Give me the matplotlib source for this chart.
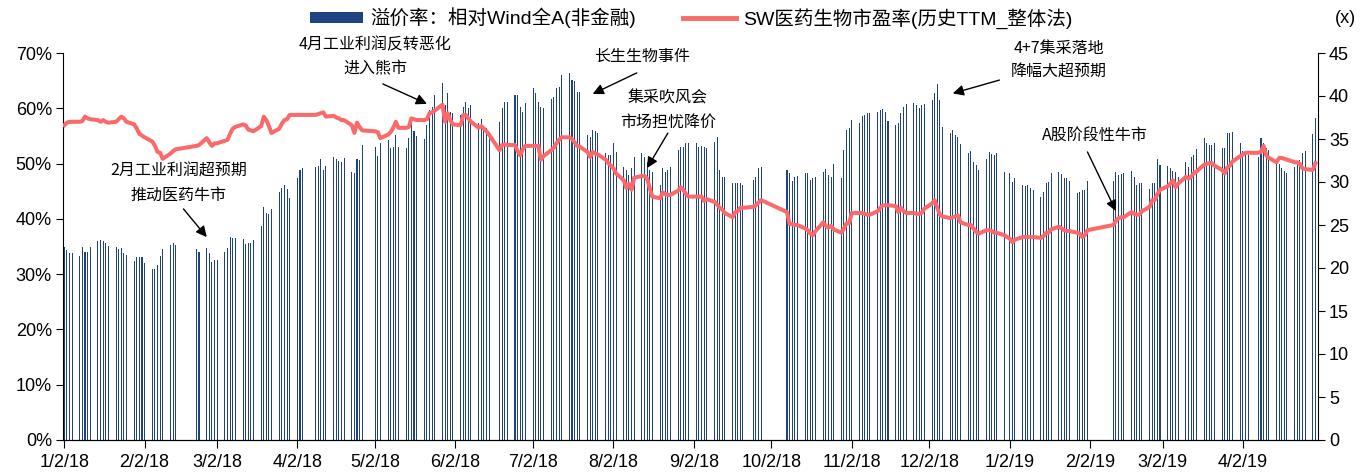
import matplotlib
matplotlib.use("Agg")
import matplotlib.pyplot as plt
import numpy as np
import pandas as pd
from matplotlib.patches import Patch
from matplotlib.lines import Line2D
from matplotlib.ticker import FuncFormatter

# 字体: 西文用 Liberation Sans, 中文回退到 Noto Sans CJK
plt.rcParams["font.family"] = ["Liberation Sans", "Noto Sans CJK SC"]
plt.rcParams["axes.unicode_minus"] = False

# A股休市日
holidays = [
    "2018-01-01", "2018-02-15", "2018-02-16", "2018-02-19", "2018-02-20",
    "2018-02-21", "2018-04-05", "2018-04-06", "2018-04-30", "2018-05-01",
    "2018-06-18", "2018-09-24", "2018-10-01", "2018-10-02", "2018-10-03",
    "2018-10-04", "2018-10-05", "2019-01-01", "2019-02-04", "2019-02-05",
    "2019-02-06", "2019-02-07", "2019-02-08", "2019-04-05",
]

# 溢价率(%) 逐交易日, 每行一周
premium_2018 = [
    34.9, 34.4, 33.8, 33.8,
    33.3, 34.9, 34.0, 34.0, 34.9,
    36.0, 36.2, 36.0, 35.6, 35.1,
    34.9, 34.5, 34.7, 33.8, 33.5,
    32.4, 33.1, 33.1, 33.1, 32.0,
    30.9, 30.9, 31.6, 33.3, 34.5,
    35.3, 35.6, 35.3,
    34.5, 34.0,
    34.7, 33.8, 32.2, 32.5, 32.5,
    34.0, 34.7, 36.7, 36.5, 36.5,
    36.3, 35.4, 35.6, 35.6, 36.2,
    38.7, 42.1, 41.0, 40.9, 41.8,
    44.8, 45.6, 46.1, 45.4, 43.8,
    47.4, 48.8, 49.2,
    49.4, 49.5, 50.8, 48.8, 49.6,
    51.2, 50.8, 50.5, 50.3, 51.0,
    48.5, 48.3, 50.8, 50.6, 53.3,
    53.0, 51.4, 53.7,
    54.2, 52.8, 53.0, 55.2, 53.0,
    52.8, 54.6, 57.3, 55.9, 55.0,
    54.4, 57.0, 59.7, 60.2, 62.4,
    64.6, 60.6, 62.7, 59.3, 59.1,
    58.8, 60.2, 61.1, 60.0, 60.6,
    57.3, 58.0, 56.6, 56.4, 55.7,
    57.5, 60.0, 61.1, 61.1,
    62.4, 62.4, 60.2, 59.3, 60.9,
    63.7, 62.7, 61.1, 60.2, 60.0,
    61.7, 62.0, 63.7, 63.8, 66.0,
    66.4, 65.1, 64.9, 62.9, 62.9,
    55.2, 54.8, 56.1, 55.9, 55.5,
    51.9, 51.5, 51.5, 53.7, 52.1,
    49.4, 48.8, 47.9, 49.2, 51.2,
    51.9, 51.2, 50.3, 48.8, 48.5,
    46.1, 49.2, 48.5, 48.8, 49.4,
    52.4, 53.0, 53.0, 53.7, 53.7,
    53.7, 53.0, 53.2, 53.0, 52.8,
    53.9, 54.8, 48.8, 47.6, 47.6,
    46.5, 46.5, 46.5, 46.5, 46.1,
    47.0, 47.6, 49.2, 49.4,
    48.8, 48.3, 46.8, 47.6, 47.7,
    48.3, 48.3, 47.0, 47.4, 47.6,
    48.5, 49.0, 47.9, 47.6, 49.9,
    47.4, 52.4, 56.1, 56.4, 57.9,
    57.3, 58.6, 58.8, 59.1, 59.1,
    59.3, 59.7, 59.9, 59.3, 57.7,
    57.0, 57.3, 59.1, 60.2, 60.8,
    60.9, 60.6, 60.0, 60.6, 60.8,
    61.5, 62.7, 64.4, 61.5, 56.6,
    55.5, 56.1, 55.2, 54.8, 53.5,
    51.9, 52.3, 50.3, 49.7, 48.8,
    50.8, 52.1, 51.7, 51.5, 51.9,
    48.5,
]
premium_2019 = [
    48.3, 46.7, 47.4,
    46.1, 45.9, 46.1, 45.6, 45.2,
    43.9, 44.8, 46.5, 46.7, 48.3,
    48.5, 48.1, 47.4, 47.4, 46.8,
    44.7, 44.8, 45.2, 45.2, 46.8,
    46.8, 48.5, 47.9, 48.1, 48.3,
    48.6, 47.6, 46.1, 46.5, 46.5,
    45.4, 46.5, 46.5, 50.8, 49.7,
    49.5, 49.2, 48.6, 48.5, 47.6,
    50.3, 49.4, 51.2, 51.5, 52.6,
    54.6, 53.7, 53.3, 53.3, 53.7,
    52.8, 52.8, 55.5, 55.5, 55.7,
    53.7, 52.3, 51.7, 51.5,
    51.2, 54.6, 53.7, 52.8, 52.4,
    50.3, 49.9, 49.2, 48.6, 48.3,
    49.4, 50.1, 50.6, 51.9, 52.3,
    55.3, 58.2,
]

# SW医药生物市盈率(x) 逐交易日
pe_2018 = [
    36.6, 36.9, 37.0, 37.0,
    37.0, 37.1, 37.6, 37.4, 37.3,
    37.2, 37.0, 37.2, 37.0, 36.9,
    37.0, 37.3, 37.6, 37.4, 37.0,
    36.7, 36.2, 35.6, 35.4, 35.2,
    34.7, 34.2, 33.5, 33.4, 32.7,
    33.3, 33.6, 33.8,
    34.2, 34.3,
    35.1, 34.6, 34.2, 34.5, 34.5,
    34.8, 34.9, 35.6, 36.2, 36.4,
    36.7, 36.6, 36.1, 36.0, 35.9,
    36.5, 37.6, 37.2, 36.5, 35.7,
    36.2, 36.8, 37.2, 37.3, 37.8,
    37.8, 37.8, 37.8,
    37.8, 37.9, 38.0, 38.1, 37.6,
    37.7, 37.5, 37.4, 37.2, 37.2,
    36.6, 35.7, 36.9, 36.4, 36.0,
    35.9, 35.8, 35.1,
    35.5, 35.8, 36.3, 37.0, 36.3,
    36.3, 36.4, 37.4, 37.3, 37.2,
    37.2, 37.3, 38.0, 38.1, 38.3,
    39.0, 37.0, 38.0, 37.2, 36.7,
    36.6, 37.8, 37.8, 37.4, 37.0,
    36.3, 36.5, 36.2, 35.9, 35.5,
    33.7, 34.3, 34.4, 34.3,
    34.3, 33.6, 33.1, 33.8, 34.2,
    34.2, 34.2, 34.2, 32.6, 33.0,
    33.7, 34.0, 34.5, 34.9, 35.2,
    35.2, 35.0, 34.6, 34.2, 34.1,
    33.5, 32.9, 33.5, 33.3, 33.2,
    32.6, 32.2, 31.9, 31.6, 31.0,
    30.2, 29.3, 29.8, 29.1, 30.5,
    30.7, 30.7, 30.4, 29.3, 28.3,
    28.1, 28.8, 28.6, 28.5, 28.5,
    29.0, 29.4, 29.1, 28.6, 28.3,
    28.3, 28.3, 28.3, 27.8, 28.0,
    27.7, 27.4, 27.0, 26.8, 26.4,
    25.9, 26.5, 26.6, 27.0, 27.0,
    27.1, 27.3, 27.6, 27.9,
    26.5, 25.1, 25.1, 25.0, 25.0,
    24.6, 24.4, 24.0, 23.8, 24.3,
    25.3, 24.9, 24.7, 24.9, 24.5,
    24.1, 24.6, 25.2, 25.2, 26.4,
    26.4, 26.4, 26.3, 26.2, 26.2,
    26.6, 27.0, 27.3, 27.3, 27.3,
    27.2, 26.5, 27.0, 26.6, 26.4,
    26.4, 26.3, 26.3, 26.4, 26.9,
    27.5, 27.9, 27.0, 26.2, 26.0,
    25.8, 25.9, 26.0, 26.1, 25.3,
    25.0, 25.0, 24.6, 24.2, 24.0,
    24.4, 24.4, 24.3, 24.1, 24.1,
    23.8,
]
pe_2019 = [
    23.4, 23.0, 23.3,
    23.6, 23.6, 23.6, 23.6, 23.6,
    23.5, 23.7, 24.1, 24.1, 24.5,
    24.8, 24.6, 24.4, 24.3, 24.3,
    24.1, 24.0, 23.6, 23.8, 24.4,
    25.0, 25.5, 25.8, 25.9, 25.9,
    26.5, 26.3, 26.2, 26.2, 26.6,
    27.1, 27.9, 27.9, 28.6, 29.1,
    29.5, 29.8, 30.2, 29.4, 29.8,
    30.6, 30.4, 30.6, 31.0, 31.2,
    32.0, 32.1, 32.2, 32.2, 31.9,
    31.4, 31.0, 31.7, 31.9, 32.4,
    33.0, 33.2, 33.4, 33.4,
    33.4, 33.5, 34.2, 33.1, 32.8,
    32.3, 32.8, 32.8, 32.7, 32.6,
    32.3, 32.3, 32.1, 31.6, 31.5,
    31.4, 32.2,
]

tick_labels = ["1/2/18", "2/2/18", "3/2/18", "4/2/18", "5/2/18", "6/2/18",
               "7/2/18", "8/2/18", "9/2/18", "10/2/18", "11/2/18", "12/2/18",
               "1/2/19", "2/2/19", "3/2/19", "4/2/19"]

# 事件标注: 文字, 文字位置(日期, %), 箭头起点, 箭头终点
events = [
    ("2月工业利润超预期\n推动医药牛市", ("2018-02-15", 46.5), ("2018-02-17", 41.8), ("2018-02-26", 36.7)),
    ("4月工业利润反转恶化\n进入熊市", ("2018-05-02", 69.3), ("2018-05-05", 64.4), ("2018-05-22", 60.8)),
    ("长生生物事件", ("2018-08-13", 69.4), ("2018-08-11", 66.4), ("2018-07-25", 62.6)),
    ("集采吹风会\n市场担忧降价", ("2018-08-23", 59.7), ("2018-08-23", 55.5), ("2018-08-15", 49.2)),
    ("4+7集采落地\n降幅大超预期", ("2019-01-21", 68.7), ("2018-12-29", 65.1), ("2018-12-11", 62.7)),
    ("A股阶段性牛市", ("2019-02-04", 55.0), ("2019-02-01", 52.1), ("2019-02-12", 41.4)),
]

days = pd.bdate_range("2018-01-02", "2019-04-30")
days = days[~days.isin(pd.to_datetime(holidays))]
premium = np.array(premium_2018 + premium_2019) / 100
pe = np.array(pe_2018 + pe_2019)
assert len(days) == len(premium) == len(pe), (len(days), len(premium), len(pe))

bar_color = "#1f4282"
line_color = "#fa6a6a"

fig = plt.figure(figsize=(13.72, 4.76), dpi=100)
ax = fig.add_axes([63 / 1372, 1 - 440 / 476, (1318 - 63) / 1372, (440 - 53) / 476])
ax2 = ax.twinx()

ax.bar(days, premium, width=0.4, color=bar_color, linewidth=0)
ax2.plot(days, pe, color=line_color, lw=2.9, solid_joinstyle="round")

ax.set_xlim(pd.Timestamp("2018-01-01 12:00"), pd.Timestamp("2019-05-01"))
ax.set_ylim(0, 0.70)
ax.set_yticks(np.arange(0, 0.71, 0.1))
ax.yaxis.set_major_formatter(FuncFormatter(lambda v, p: f"{v * 100:.0f}%"))
ax2.set_ylim(0, 45)
ax2.set_yticks(np.arange(0, 46, 5))

ticks = pd.to_datetime(tick_labels, format="%m/%d/%y")
ax.set_xticks(ticks)
ax.set_xticklabels(tick_labels)

for a in (ax, ax2):
    a.spines["top"].set_visible(False)
ax.spines["right"].set_visible(False)
ax2.spines["left"].set_visible(False)
ax.tick_params(axis="y", direction="out", length=5, labelsize=13, pad=3)
ax.tick_params(axis="x", direction="out", length=6, labelsize=13, pad=4)
ax2.tick_params(axis="y", direction="out", length=5, labelsize=13, pad=3)

# 事件标注
for text, pos, start, tip in events:
    ax.text(pd.Timestamp(pos[0]), pos[1] / 100, text, ha="center", va="center",
            fontsize=11.5, family=["Noto Sans CJK SC", "DejaVu Sans"], linespacing=1.55)
    ax.annotate("", xy=(pd.Timestamp(tip[0]), tip[1] / 100),
                xytext=(pd.Timestamp(start[0]), start[1] / 100),
                arrowprops=dict(arrowstyle="-|>", color="black", lw=1.0,
                                mutation_scale=16, shrinkA=0, shrinkB=0))

handles = [Patch(facecolor=bar_color, edgecolor="none"),
           Line2D([0], [0], color=line_color, lw=3.5)]
labels = ["溢价率：相对Wind全A(非金融)", "SW医药生物市盈率(历史TTM_整体法)"]
fig.legend(handles, labels, loc="center", bbox_to_anchor=(0.504, 0.962), ncol=2,
           frameon=False, fontsize=14, handlelength=2.7, handleheight=0.45,
           handletextpad=0.4, columnspacing=2.4)
fig.text(1345 / 1372, 0.962, "(x)", ha="center", va="center", fontsize=13)

fig.savefig("out.png", dpi=100)
